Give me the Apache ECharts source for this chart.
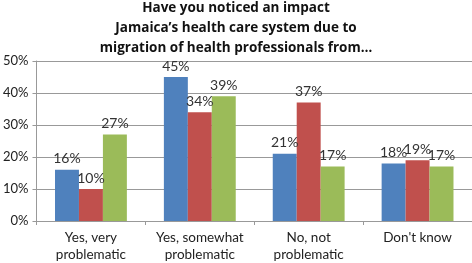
<!DOCTYPE html>
<html>
<head>
<meta charset="utf-8">
<script src="https://cdn.jsdelivr.net/npm/echarts@6/dist/echarts.min.js"></script>
<style>
html,body{margin:0;padding:0;background:#fff;}
#chart{width:472px;height:263px;}
</style>
</head>
<body>
<div id="chart"></div>
<script>
var categories = ['Yes, very\nproblematic', 'Yes, somewhat\nproblematic', 'No, not\nproblematic', "Don't know"];
var seriesBlue = [16, 45, 21, 18];
var seriesRed = [10, 34, 37, 19];
var seriesGreen = [27, 39, 17, 17];
var yTicks = [0, 10, 20, 30, 40, 50];

var font = 'Lato';

function makeSeries(name, data, color) {
    return {
        name: name,
        type: 'bar',
        data: data,
        barGap: '0%',
        barCategoryGap: '34%',
        itemStyle: {color: color},
        label: {
            show: true,
            position: 'top',
            distance: 4,
            formatter: '{c}%',
            color: '#333',
            fontFamily: font,
            fontSize: 14
        }
    };
}

var myChart = echarts.init(document.getElementById('chart'));
var option = {
    animation: false,
    title: {
        text: 'Have you noticed an impact\nJamaica\u2019s health care system due to\nmigration of health professionals from\u2026',
        left: 'center',
        top: -7,
        textStyle: {
            fontFamily: 'Open Sans',
            fontWeight: 'bold',
            fontSize: 13.5,
            lineHeight: 20,
            color: '#111'
        }
    },
    grid: {left: 36, right: 0, top: 61, bottom: 42},
    xAxis: {
        type: 'category',
        data: categories,
        axisLine: {lineStyle: {color: '#999'}},
        axisTick: {show: true, length: 4, lineStyle: {color: '#999'}},
        axisLabel: {interval: 0, color: '#222', fontFamily: font, fontSize: 13.5, lineHeight: 17, margin: 8}
    },
    yAxis: {
        type: 'value',
        min: yTicks[0],
        max: yTicks[yTicks.length - 1],
        interval: 10,
        axisLine: {show: true, lineStyle: {color: '#999'}},
        axisTick: {show: true, length: 4, lineStyle: {color: '#999'}},
        splitLine: {lineStyle: {color: '#999'}},
        axisLabel: {color: '#222', fontFamily: font, fontSize: 13, margin: 8, formatter: '{value}%'}
    },
    series: [
        makeSeries('A', seriesBlue, '#4F81BD'),
        makeSeries('B', seriesRed, '#C0504D'),
        makeSeries('C', seriesGreen, '#9BBB59')
    ]
};
myChart.setOption(option);
</script>
</body>
</html>
